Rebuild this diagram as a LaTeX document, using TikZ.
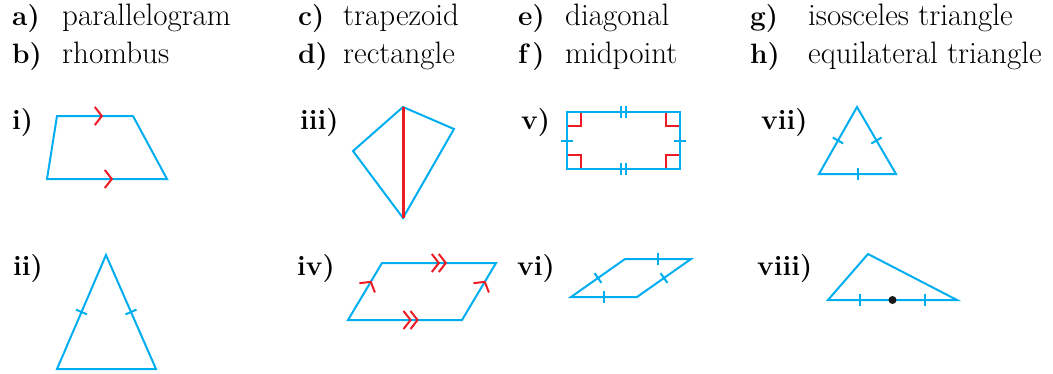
\documentclass[tikz,border=0pt]{standalone}
\usepackage{fontspec}
\usepackage{tikz}
\usetikzlibrary{calc,decorations.markings}

\definecolor{shapecyan}{RGB}{0,174,239}
\definecolor{markred}{RGB}{237,28,36}

\tikzset{
  shapeline/.style={draw=shapecyan, line width=2pt, line join=miter},
  listtext/.style={anchor=base west, inner sep=0pt, font=\fontsize{31}{36}\selectfont},
  listlabel/.style={listtext, font=\fontsize{28}{34}\selectfont\bfseries},
  figlabel/.style={anchor=base west, inner sep=0pt, font=\fontsize{28}{32}\selectfont\bfseries},
  % marks placed along one side
  onetick/.style={decoration={markings, mark=at position #1 with {\draw[shapecyan, line width=2pt] (0,-6pt) -- (0,6pt);}}, decorate},
  twotick/.style={decoration={markings, mark=at position #1 with {\draw[shapecyan, line width=2pt] (-2.5pt,-6pt) -- (-2.5pt,6pt) (2.5pt,-6pt) -- (2.5pt,6pt);}}, decorate},
  onearrow/.style={decoration={markings, mark=at position #1 with {\draw[markred, line width=2pt] (-7pt,9pt) -- (0,0) -- (-7pt,-9pt);}}, decorate},
  twoarrow/.style={decoration={markings, mark=at position #1 with {\draw[markred, line width=2pt] (-14pt,9pt) -- (-7pt,0) -- (-14pt,-9pt) (-7pt,9pt) -- (0,0) -- (-7pt,-9pt);}}, decorate},
  rightmark/.style={draw=markred, line width=2pt}
}

\begin{document}
\begin{tikzpicture}[x=1pt, y=-1pt]
  \useasboundingbox (0,0) rectangle (1053,373);

  % word list
  \node[listlabel] (la) at (12,25) {a)};
  \node[listtext]  (ta) at (62,25) {parallelogram};
  \node[listlabel] (lb) at (12,63) {b)};
  \node[listtext]  (tb) at (62,63) {rhombus};
  \node[listlabel] (lc) at (298,25) {c)};
  \node[listtext]  (tc) at (343,25) {trapezoid};
  \node[listlabel] (ld) at (298,63) {d)};
  \node[listtext]  (td) at (343,63) {rectangle};
  \node[listlabel] (le) at (518,25) {e)};
  \node[listtext]  (te) at (565,25) {diagonal};
  \node[listlabel] (lf) at (518,63) {f\,)};
  \node[listtext]  (tf) at (565,63) {midpoint};
  \node[listlabel] (lg) at (750,25) {g)};
  \node[listtext]  (tg) at (808,25) {isosceles triangle};
  \node[listlabel] (lh) at (750,63) {h)};
  \node[listtext]  (th) at (808,63) {equilateral triangle};

  % figure labels
  \node[figlabel] (fi)    at (12,129)  {i)};
  \node[figlabel] (fiii)  at (300,129) {iii)};
  \node[figlabel] (fv)    at (521,129) {v)};
  \node[figlabel] (fvii)  at (761,129) {vii)};
  \node[figlabel] (fii)   at (13,275)  {ii)};
  \node[figlabel] (fiv)   at (297,275) {iv)};
  \node[figlabel] (fvi)   at (517,275) {vi)};
  \node[figlabel] (fviii) at (757,275) {viii)};

  % i) trapezoid
  \coordinate (i1) at (57,116);
  \coordinate (i2) at (133,116);
  \coordinate (i3) at (167,179);
  \coordinate (i4) at (47,179);
  \draw[shapeline] (i1) -- (i2) -- (i3) -- (i4) -- cycle;
  \path[onearrow=0.59] (i1) -- (i2);
  \path[onearrow=0.54] (i4) -- (i3);

  % ii) isosceles triangle
  \coordinate (ii1) at (106,255);
  \coordinate (ii2) at (156,369);
  \coordinate (ii3) at (57,369);
  \draw[shapeline] (ii1) -- (ii2) -- (ii3) -- cycle;
  \path[onetick=0.5] (ii3) -- (ii1);
  \path[onetick=0.5] (ii1) -- (ii2);

  % iii) kite with diagonal
  \coordinate (iii1) at (403,107);
  \coordinate (iii2) at (454,129);
  \coordinate (iii3) at (403,218);
  \coordinate (iii4) at (353,151);
  \draw[shapeline] (iii1) -- (iii2) -- (iii3) -- (iii4) -- cycle;
  \draw[markred, line width=3pt] (iii1) -- (iii3);

  % iv) parallelogram
  \coordinate (iv1) at (382,263);
  \coordinate (iv2) at (496,263);
  \coordinate (iv3) at (462,320);
  \coordinate (iv4) at (348,320);
  \draw[shapeline] (iv1) -- (iv2) -- (iv3) -- (iv4) -- cycle;
  \path[twoarrow=0.56] (iv1) -- (iv2);
  \path[twoarrow=0.61] (iv4) -- (iv3);
  \path[onearrow=0.67] (iv4) -- (iv1);
  \path[onearrow=0.67] (iv3) -- (iv2);

  % v) rectangle
  \coordinate (v1) at (567,112);
  \coordinate (v2) at (680,112);
  \coordinate (v3) at (680,169);
  \coordinate (v4) at (567,169);
  \draw[rightmark] ($(v1)+(0,14)$) -| ($(v1)+(14,0)$);
  \draw[rightmark] ($(v2)+(0,14)$) -| ($(v2)+(-14,0)$);
  \draw[rightmark] ($(v3)+(0,-14)$) -| ($(v3)+(-14,0)$);
  \draw[rightmark] ($(v4)+(0,-14)$) -| ($(v4)+(14,0)$);
  \draw[shapeline] (v1) -- (v2) -- (v3) -- (v4) -- cycle;
  \path[twotick=0.5] (v1) -- (v2);
  \path[twotick=0.5] (v4) -- (v3);
  \path[onetick=0.5] (v1) -- (v4);
  \path[onetick=0.5] (v2) -- (v3);

  % vi) rhombus
  \coordinate (vi1) at (625,259);
  \coordinate (vi2) at (691,259);
  \coordinate (vi3) at (637,297);
  \coordinate (vi4) at (571,297);
  \draw[shapeline] (vi1) -- (vi2) -- (vi3) -- (vi4) -- cycle;
  \path[onetick=0.5] (vi1) -- (vi2);
  \path[onetick=0.5] (vi2) -- (vi3);
  \path[onetick=0.5] (vi4) -- (vi3);
  \path[onetick=0.5] (vi4) -- (vi1);

  % vii) equilateral triangle
  \coordinate (vii1) at (857,107);
  \coordinate (vii2) at (896,174);
  \coordinate (vii3) at (819,174);
  \draw[shapeline] (vii1) -- (vii2) -- (vii3) -- cycle;
  \path[onetick=0.5] (vii3) -- (vii1);
  \path[onetick=0.5] (vii1) -- (vii2);
  \path[onetick=0.5] (vii3) -- (vii2);

  % viii) triangle with midpoint
  \coordinate (viii1) at (868,254);
  \coordinate (viii2) at (957,300);
  \coordinate (viii3) at (828,300);
  \draw[shapeline] (viii1) -- (viii2) -- (viii3) -- cycle;
  \path[onetick=0.25] (viii3) -- (viii2);
  \path[onetick=0.75] (viii3) -- (viii2);
  \fill[black!90] ($(viii3)!0.5!(viii2)$) circle (4pt);
\end{tikzpicture}
\end{document}
